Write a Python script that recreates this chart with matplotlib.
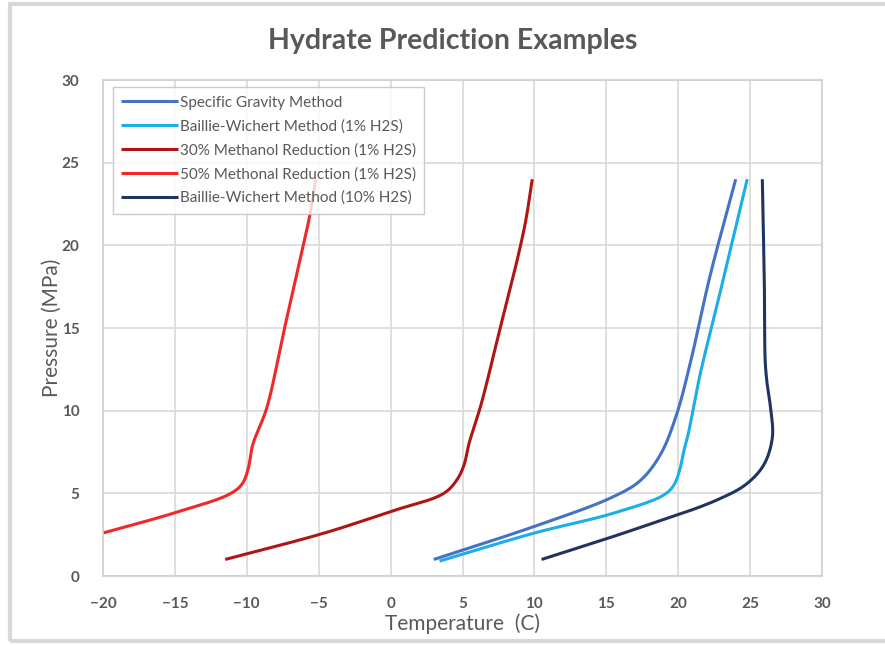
import numpy as np
import matplotlib
matplotlib.use('Agg')
import matplotlib.pyplot as plt
from matplotlib.patches import Rectangle

plt.rcParams['font.family'] = ['Lato', 'DejaVu Sans']

# hydrate curves: temperature (C) vs pressure (MPa)
sg_T = [3.0, 10.0, 15.5, 17.4, 18.8, 19.9, 20.9, 22.2, 24.0]
sg_P = [1.0, 3.0, 4.8, 5.8, 7.4, 9.8, 13.1, 18.1, 24.0]

bw1_T = [3.4, 10.0, 15.5, 19.0, 19.7, 20.1, 20.4, 20.7, 21.5, 22.9, 24.8]
bw1_P = [0.9, 2.6, 3.8, 4.9, 5.5, 6.4, 7.6, 8.6, 12.1, 17.1, 24.0]

m30_T = [-11.5, -4.6, 0.0, 3.7, 4.6, 5.1, 5.45, 6.3, 7.65, 8.8, 9.4, 9.85]
m30_P = [1.0, 2.6, 3.9, 5.0, 5.8, 6.7, 8.0, 10.4, 15.1, 19.1, 21.5, 24.0]

m50_T = [-20.0, -15.1, -11.1, -10.3, -9.9, -9.6, -8.6, -7.45, -6.3, -5.6, -5.2]
m50_P = [2.6, 3.8, 5.0, 5.6, 6.5, 7.9, 10.2, 14.7, 19.1, 21.9, 24.0]

bw10_T = [10.5, 16.9, 22.7, 24.8, 26.0, 26.55, 26.45, 26.2, 26.05, 26.0, 25.85]
bw10_P = [1.0, 2.8, 4.6, 5.6, 6.8, 8.4, 10.0, 11.5, 13.0, 17.1, 24.0]

series = [
    (sg_T, sg_P, "Specific Gravity Method", '#4472C4'),
    (bw1_T, bw1_P, "Baillie-Wichert Method (1% H2S)", '#1BAEE8'),
    (m30_T, m30_P, "30% Methanol Reduction (1% H2S)", '#B01515'),
    (m50_T, m50_P, "50% Methonal Reduction (1% H2S)", '#F02828'),
    (bw10_T, bw10_P, "Baillie-Wichert Method (10% H2S)", '#1F3560'),
]


def smooth(xs, ys, n=24, alpha=0.5):
    # centripetal Catmull-Rom through the points (no overshoot at bends)
    pts = np.column_stack([xs, ys]).astype(float)
    pts = np.vstack([2 * pts[0] - pts[1], pts, 2 * pts[-1] - pts[-2]])
    out = []
    for i in range(1, len(pts) - 2):
        p0, p1, p2, p3 = pts[i - 1], pts[i], pts[i + 1], pts[i + 2]
        t0 = 0.0
        t1 = t0 + np.linalg.norm(p1 - p0) ** alpha
        t2 = t1 + np.linalg.norm(p2 - p1) ** alpha
        t3 = t2 + np.linalg.norm(p3 - p2) ** alpha
        for t in np.linspace(t1, t2, n, endpoint=False):
            a1 = (t1 - t) / (t1 - t0) * p0 + (t - t0) / (t1 - t0) * p1
            a2 = (t2 - t) / (t2 - t1) * p1 + (t - t1) / (t2 - t1) * p2
            a3 = (t3 - t) / (t3 - t2) * p2 + (t - t2) / (t3 - t2) * p3
            b1 = (t2 - t) / (t2 - t0) * a1 + (t - t0) / (t2 - t0) * a2
            b2 = (t3 - t) / (t3 - t1) * a2 + (t - t1) / (t3 - t1) * a3
            out.append((t2 - t) / (t2 - t1) * b1 + (t - t1) / (t2 - t1) * b2)
    out.append(pts[-2])
    out = np.array(out)
    return out[:, 0], out[:, 1]


fig = plt.figure(figsize=(8.85, 6.45), dpi=100)
ax = fig.add_axes([103/885, 1-576/645, (822-103)/885, (576-80)/645])

for T, P, lab, c in series:
    x, y = smooth(T, P)
    ax.plot(x, y, color=c, lw=2.2, label=lab, solid_capstyle='butt')

ax.set_xlim(-20, 30)
ax.set_ylim(0, 30)
ax.set_xticks(np.arange(-20, 31, 5))
ax.set_yticks(np.arange(0, 31, 5))
ax.grid(True, color='#D9D9D9', lw=1.2)
ax.set_axisbelow(True)
for s in ax.spines.values():
    s.set_color('#D0D0D0')
    s.set_linewidth(1.2)
ax.tick_params(length=0, labelsize=11, labelcolor='#595959')
ax.tick_params(axis='x', pad=15)
ax.tick_params(axis='y', pad=17)
for lbl in ax.get_xticklabels() + ax.get_yticklabels():
    lbl.set_fontweight('bold')

ax.set_xlabel("Temperature  (C)", fontsize=15, color='#595959', labelpad=2)
ax.set_ylabel("Pressure (MPa)", fontsize=15, color='#595959', labelpad=0)
ax.set_title("Hydrate Prediction Examples", fontsize=20.5, fontweight='bold',
             color='#595959', pad=22, x=0.486)

leg = ax.legend(loc='upper left', bbox_to_anchor=(0.014, 0.985), fontsize=11,
                frameon=True, fancybox=False, edgecolor='#BFBFBF',
                handlelength=3.7, handletextpad=0.1, labelspacing=0.62,
                borderpad=0.55, borderaxespad=0)
leg.get_frame().set_linewidth(1.0)
for t in leg.get_texts():
    t.set_color('#595959')

# light frame around the whole chart
fig.patches.append(Rectangle((10/885, 4/645), 1.0, 637/645, transform=fig.transFigure,
                             fill=False, edgecolor='#D5D9DE', lw=3, zorder=0))

fig.savefig('out.png', dpi=100)
